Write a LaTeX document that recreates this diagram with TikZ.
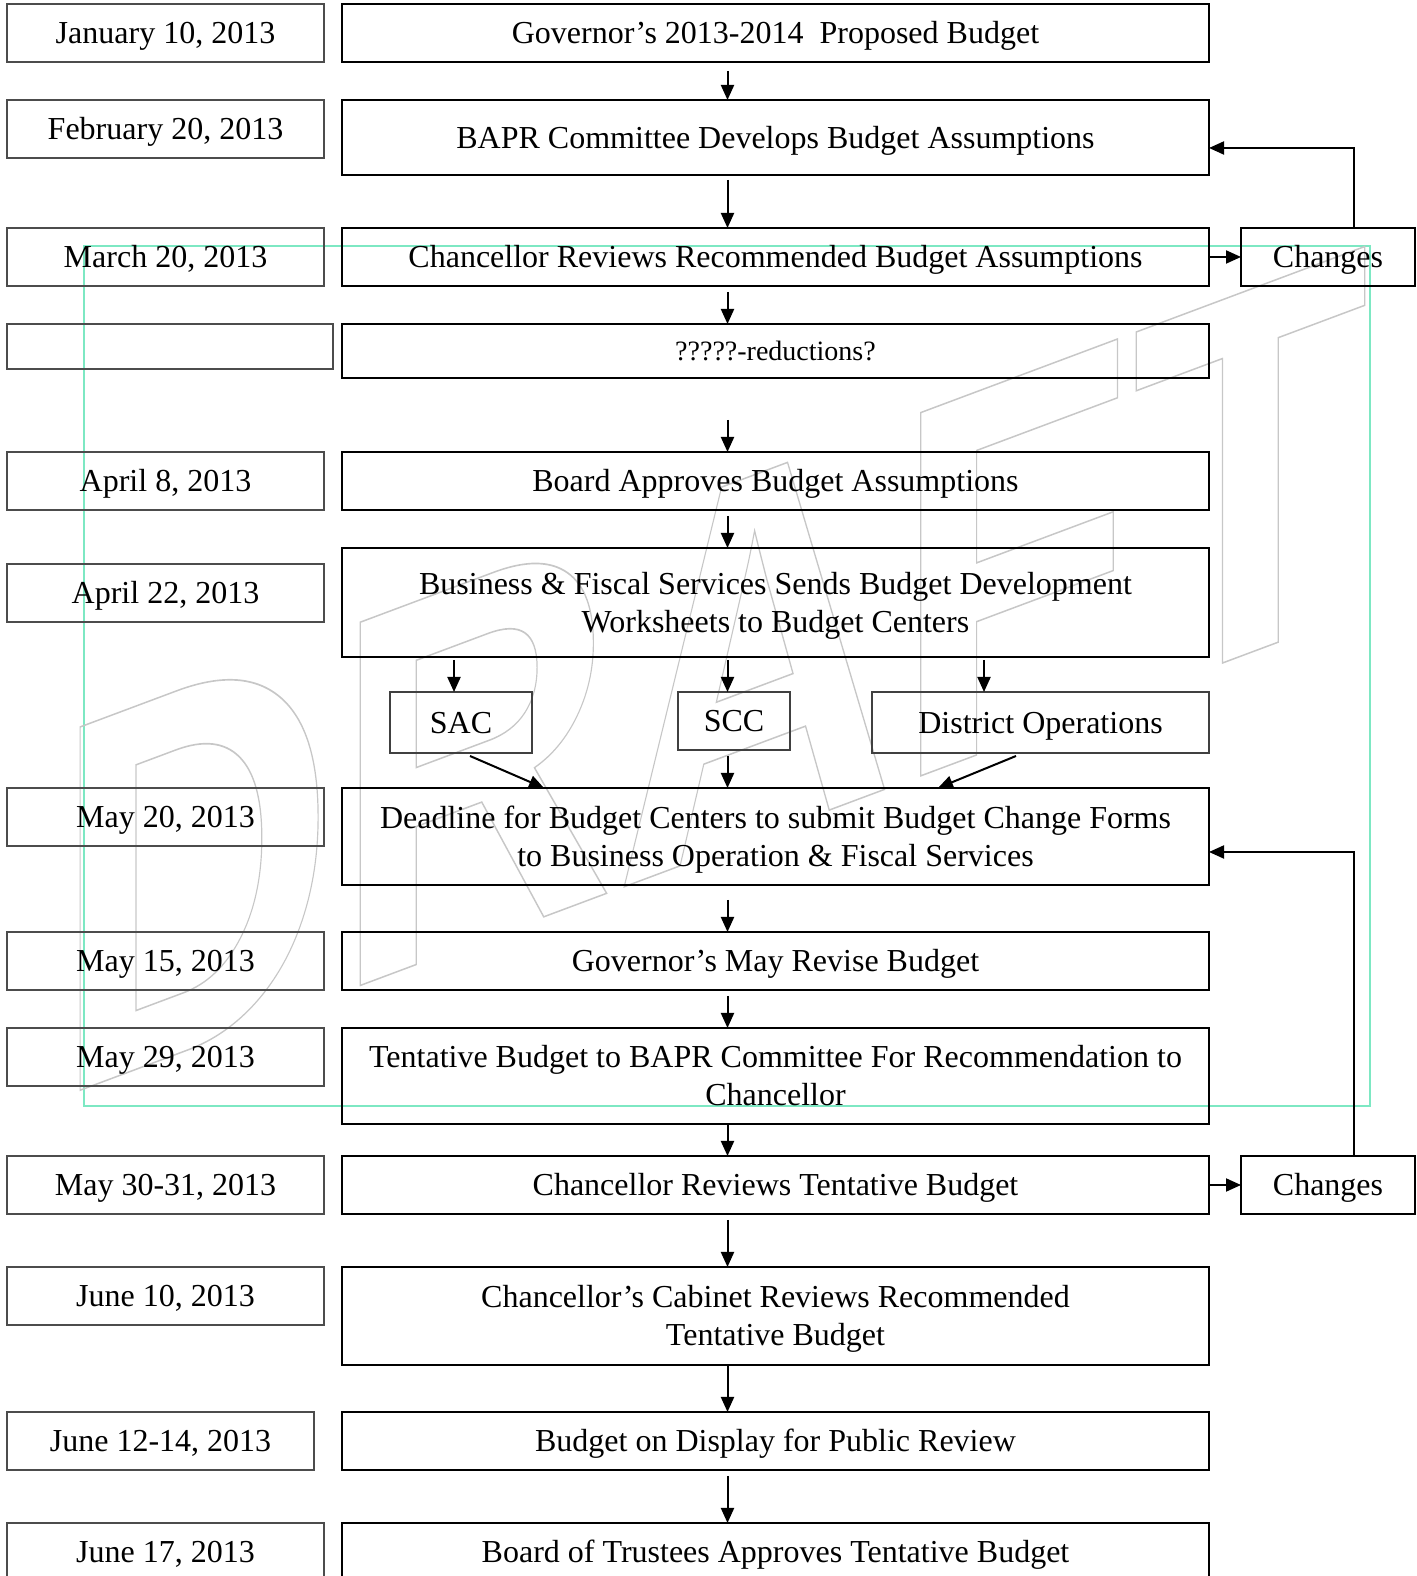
\documentclass[tikz,border=0pt]{standalone}
\usepackage{fontspec}
\setmainfont{Liberation Serif}
\newfontfamily\wmfont{Liberation Sans}
\usetikzlibrary{arrows.meta,positioning}
\definecolor{wmframe}{RGB}{125,232,195}
\tikzstyle{mainbox} = [rectangle,draw=black,line width=2.2pt,minimum width=867,align=center,inner sep=0,outer sep=0]
\tikzstyle{twoline} = [text height=67]
\tikzstyle{datebox} = [rectangle,draw=black!70,line width=1.3pt,minimum width=317,minimum height=58,inner sep=0,outer sep=0]
\tikzstyle{ctrbox} = [rectangle,draw=black!75,line width=1.3pt,minimum height=61,inner sep=0,outer sep=0]
\tikzstyle{chgbox} = [rectangle,draw=black,line width=1.6pt,minimum width=174,minimum height=58,inner sep=0,outer sep=0]
\tikzstyle{wmark} = [anchor=base west,inner sep=0,color=black!22,font=\wmfont\bfseries\fontsize{528}{528}\selectfont]

\begin{document}
\begin{tikzpicture}[x=1pt,y=1pt,>={Triangle[length=15pt,width=13pt]},
	every node/.style={font=\fontsize{32}{38}\selectfont,text height=29,text depth=7.5}]
	\useasboundingbox (0,0) rectangle (1416,1576);
	% watermark behind everything
	\draw[color=wmframe,line width=1.4pt] (84,470) rectangle (1370,1330);
	\begin{scope}[shift={(54,476)},yslant=.374,xscale=.735]
		\node[wmark,transform shape] (draft) at (0,0) {\special{pdf:literal direct 1 Tr 1.6 w}DRAFT\special{pdf:literal direct 0 Tr}};
	\end{scope}

	\begin{scope}[line width=2pt]
		% main column
		\node[mainbox,minimum height=58] (gov) at (775.5,1543) {Governor’s 2013-2014~ Proposed Budget};
		\node[mainbox,minimum height=75] (bapr) [below=38 of gov] {BAPR Committee Develops Budget Assumptions};
		\node[mainbox,minimum height=58] (chan) [below=53 of bapr] {Chancellor Reviews Recommended Budget Assumptions};
		\node[mainbox,minimum height=54,font=\fontsize{28}{34}\selectfont,text height=25.5,text depth=6.5] (reduc) [below=38 of chan] {?????-reductions?};
		\node[mainbox,minimum height=58] (board) [below=74 of reduc] {Board Approves Budget Assumptions};
		\node[mainbox,twoline,minimum height=109] (biz) [below=38 of board] {Business \& Fiscal Services Sends Budget Development\\Worksheets to Budget Centers};
		\node[mainbox,twoline,minimum height=97] (dead) [below=131 of biz] {Deadline for Budget Centers to submit Budget Change Forms\\to Business Operation \& Fiscal Services};
		\node[mainbox,minimum height=58] (govmay) [below=47 of dead] {Governor’s May Revise Budget};
		\node[mainbox,twoline,minimum height=96] (tent) [below=38 of govmay] {Tentative Budget to BAPR Committee For Recommendation to\\Chancellor};
		\node[mainbox,minimum height=58] (chanrev) [below=32 of tent] {Chancellor Reviews Tentative Budget};
		\node[mainbox,twoline,minimum height=98] (cabinet) [below=53 of chanrev] {Chancellor’s Cabinet Reviews Recommended\\Tentative Budget};
		\node[mainbox,minimum height=58] (display) [below=47 of cabinet] {Budget on Display for Public Review};
		\node[mainbox,minimum height=58] (trustees) [below=53 of display] {Board of Trustees Approves Tentative Budget};

		% dates
		\node[datebox,left=18 of gov.north west,anchor=north east] (d1) {January 10, 2013};
		\node[datebox,left=18 of bapr.north west,anchor=north east] (d2) {February 20, 2013};
		\node[datebox,left=18 of chan.north west,anchor=north east] (d3) {March 20, 2013};
		\node[datebox,minimum width=326,minimum height=45,left=9 of reduc.north west,anchor=north east] (d4) {};
		\node[datebox,left=18 of board.north west,anchor=north east] (d5) {April 8, 2013};
		\node[datebox,left=18 of biz.north west,anchor=north east,yshift=-16] (d6) {April 22, 2013};
		\node[datebox,left=18 of dead.north west,anchor=north east] (d7) {May 20, 2013};
		\node[datebox,left=18 of govmay.north west,anchor=north east] (d8) {May 15, 2013};
		\node[datebox,left=18 of tent.north west,anchor=north east] (d9) {May 29, 2013};
		\node[datebox,left=18 of chanrev.north west,anchor=north east] (d10) {May 30-31, 2013};
		\node[datebox,left=18 of cabinet.north west,anchor=north east] (d11) {June 10, 2013};
		\node[datebox,minimum width=307,left=28 of display.north west,anchor=north east] (d12) {June 12-14, 2013};
		\node[datebox,left=18 of trustees.north west,anchor=north east] (d13) {June 17, 2013};

		% budget centers
		\node[ctrbox,minimum width=142,below=35 of biz.south west,anchor=north west,xshift=48] (sac) {SAC};
		\node[ctrbox,minimum width=112,minimum height=58,below=35 of biz.south west,anchor=north west,xshift=336] (scc) {SCC};
		\node[ctrbox,minimum width=337,below=35 of biz.south east,anchor=north east] (dist) {District Operations};

		% changes
		\node[chgbox] (chg1) [right=32 of chan] {Changes};
		\node[chgbox] (chg2) [right=32 of chanrev] {Changes};

		\coordinate[left=48 of gov.south] (spine);

		\draw[->,shorten <=9] (gov.south -| spine) -- (bapr.north -| spine);
		\draw[->,shorten <=5] (bapr.south -| spine) -- (chan.north -| spine);
		\draw[->,shorten <=6] (chan.south -| spine) -- (reduc.north -| spine);
		\draw[->,shorten <=42] (reduc.south -| spine) -- (board.north -| spine);
		\draw[->,shorten <=6] (board.south -| spine) -- (biz.north -| spine);
		\draw[->,shorten <=3] ([xshift=-7]sac.north |- biz.south) -- ([xshift=-7]sac.north);
		\draw[->,shorten <=3] (biz.south -| spine) -- (scc.north -| spine);
		\draw[->,shorten <=3] ([xshift=-56.5]dist.north |- biz.south) -- ([xshift=-56.5]dist.north);
		\draw[->] ([xshift=9,yshift=-3]sac.south) -- ([xshift=-231.5]dead.north);
		\draw[->,shorten <=6] (scc.south -| spine) -- (dead.north -| spine);
		\draw[->] ([xshift=-24.5,yshift=-3]dist.south) -- ([xshift=162.5]dead.north);
		\draw[->,shorten <=15] (dead.south -| spine) -- (govmay.north -| spine);
		\draw[->,shorten <=6] (govmay.south -| spine) -- (tent.north -| spine);
		\draw[->] (tent.south -| spine) -- (chanrev.north -| spine);
		\draw[->,shorten <=6] (chanrev.south -| spine) -- (cabinet.north -| spine);
		\draw[->] (cabinet.south -| spine) -- (display.north -| spine);
		\draw[->,shorten <=6] (display.south -| spine) -- (trustees.north -| spine);

		\draw[->] (chan) -- (chg1);
		\draw[->] (chanrev) -- (chg2);
		\draw[->] ([xshift=26]chg1.north) |- ([yshift=-10.5]bapr.east);
		\draw[->] ([xshift=26]chg2.north) |- ([yshift=-15.5]dead.east);
	\end{scope}
\end{tikzpicture}
\end{document}
